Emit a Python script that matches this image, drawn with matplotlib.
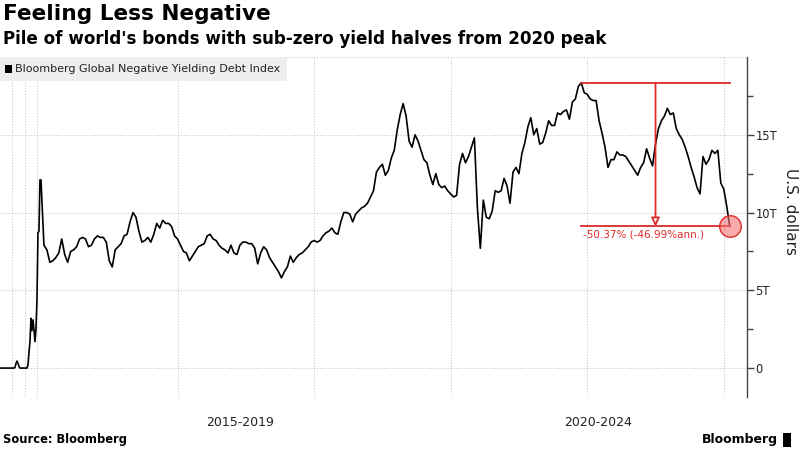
import matplotlib
matplotlib.use("Agg")
import matplotlib.pyplot as plt
import numpy as np
from matplotlib.patches import Rectangle
from matplotlib.ticker import FixedLocator, FuncFormatter

# --- DATA (trillions of USD) ---
# early history is squeezed into the left edge of the chart
pre_2017 = [0, 0, 0, 0, 0, 0, 0, 0, 0, 0, 0, 0, 0, 0, 0,
            0.05, 0.3, 0.45, 0.3, 0.1,
            0, 0, 0, 0, 0, 0, 0, 0,
            0.2, 1.0, 1.7, 3.2, 2.4, 3.1, 2.5, 1.7, 2.5, 4.4, 8.7, 8.8, 12.1]

v_2017 = [12.1, 7.9, 7.6, 6.8, 6.9, 7.1, 7.4, 8.3, 7.3, 6.8, 7.5, 7.6, 7.8, 8.3, 8.4, 8.3,
          7.8, 7.9, 8.3, 8.5, 8.4, 8.4, 8.1, 6.9, 6.5, 7.6, 7.8, 8.0, 8.5, 8.6, 9.4, 10.0,
          9.7, 8.8, 8.1, 8.2, 8.4, 8.1, 8.6, 9.3, 9.0, 9.5, 9.3, 9.3, 9.1, 8.5]

v_2018 = [8.3, 7.9, 7.5, 7.4, 6.9, 7.2, 7.5, 7.8, 7.9, 8.0, 8.5, 8.6, 8.3, 8.2, 7.9, 7.7,
          7.6, 7.4, 7.9, 7.4, 7.3, 7.9, 8.1, 8.1, 8.0, 8.0, 7.7, 6.7, 7.4, 7.8, 7.6, 7.1,
          6.8, 6.5, 6.2, 5.8, 6.2, 6.5, 7.2, 6.8, 7.1, 7.3, 7.4, 7.6, 7.8, 8.1]

v_2019 = [8.2, 8.1, 8.2, 8.5, 8.7, 8.8, 9.0, 8.7, 8.6, 9.4, 10.0, 10.0, 9.9, 9.4, 9.9, 10.1,
          10.3, 10.4, 10.6, 11.0, 11.4, 12.6, 12.9, 13.1, 12.4, 12.7, 13.5, 14.0, 15.3, 16.3,
          17.0, 16.2, 14.6, 14.2, 15.0, 14.6, 14.0, 13.4, 13.2, 12.4, 11.8, 12.5, 11.8, 11.6,
          11.7, 11.4]

v_2020 = [11.2, 11.0, 11.1, 13.1, 13.8, 13.2, 13.6, 14.2, 14.8, 10.3, 7.7, 10.8, 9.7, 9.6,
          10.1, 11.4, 11.3, 11.4, 12.2, 11.7, 10.6, 12.6, 12.9, 12.5, 13.8, 14.5, 15.5, 16.1,
          15.0, 15.4, 14.4, 14.5, 15.1, 15.9, 15.6, 15.6, 16.4, 16.3, 16.5, 16.6, 16.0, 17.1,
          17.3, 18.1, 18.35, 17.7]

v_2021 = [17.6, 17.3, 17.2, 17.2, 15.9, 15.1, 14.2, 12.9, 13.4, 13.4, 13.9, 13.7, 13.7, 13.6,
          13.3, 13.0, 12.7, 12.4, 12.9, 13.2, 14.1, 13.5, 13.0, 14.4, 15.4, 15.9, 16.2, 16.7,
          16.3, 16.4, 15.4, 15.0, 14.7, 14.2, 13.6, 12.9, 12.3, 11.6, 11.2, 13.6, 13.1, 13.4,
          14.0, 13.8, 14.0, 11.9]

v_2022 = [11.5, 10.4, 9.11]

yearly = {2017: v_2017, 2018: v_2018, 2019: v_2019, 2020: v_2020, 2021: v_2021, 2022: v_2022}

period_labels = ['2015-2019', '2020-2024']
period_centers = [2018.46, 2021.08]
grid_x = [2016.79, 2016.88, 2016.97, 2018, 2019, 2020, 2021, 2022]
change_label = '-50.37% (-46.99%ann.)'

RED = '#dd2a2a'
GRID = '#c9c9c9'
SAMPLES_PER_YEAR = 46
X_LEFT, X_RIGHT = 2016.70, 2022.17

# -- build the x positions --
xs = [X_LEFT + np.arange(len(pre_2017)) * (2017 - X_LEFT) / len(pre_2017)]
ys = [np.array(pre_2017, dtype=float)]
for yr, vals in yearly.items():
    xs.append(yr + np.arange(len(vals)) / SAMPLES_PER_YEAR)
    ys.append(np.array(vals, dtype=float))
x = np.concatenate(xs)
y = np.concatenate(ys)

fig = plt.figure(figsize=(8, 4.5), dpi=100)
ax = fig.add_axes([0.0, 1 - 397 / 450, 747 / 800, 340 / 450])

ax.plot(x, y, color='black', lw=1.2, zorder=3)

ax.set_xlim(X_LEFT, X_RIGHT)
ax.set_ylim(-1.86, 20)

# grid
for gx in grid_x:
    ax.axvline(gx, color=GRID, lw=0.8, ls=(0, (1, 1.5)), zorder=1)
for gy in [0, 5, 10, 15, 20]:
    ax.axhline(gy, color=GRID, lw=0.8, ls=(0, (1, 1.5)), zorder=1)

# axes styling
for side in ['top', 'left', 'bottom']:
    ax.spines[side].set_visible(False)
ax.spines['right'].set_color('#444444')
ax.spines['right'].set_linewidth(1.0)
ax.yaxis.tick_right()
ax.yaxis.set_major_locator(FixedLocator([0, 5, 10, 15]))
ax.yaxis.set_minor_locator(FixedLocator([2.5, 7.5, 12.5, 17.5]))
ax.yaxis.set_major_formatter(FuncFormatter(lambda v, p: '0' if v == 0 else f'{int(v)}T'))
ax.tick_params(axis='y', which='major', length=5, width=1, color='#444444',
               labelsize=8.3, pad=1, labelcolor='#222222')
ax.tick_params(axis='y', which='minor', length=4, width=1, color='#444444')
ax.set_xticks(period_centers)
ax.set_xticklabels(period_labels)
ax.tick_params(axis='x', length=0, labelsize=9, pad=14, labelcolor='#222222')

# peak-to-now annotation
i_peak = int(np.argmax(y[x > 2019.5])) + int(np.sum(x <= 2019.5))
px, pv = x[i_peak], y[i_peak]
ex, ev = x[-1], y[-1]
ax.plot([px, ex], [pv, pv], color=RED, lw=1.3, zorder=4)
ax.plot([px, ex], [ev, ev], color=RED, lw=1.3, zorder=4)
mid = (px + ex) / 2
ax.annotate('', xy=(mid, ev), xytext=(mid, pv),
            arrowprops=dict(arrowstyle='-|>,head_length=0.5,head_width=0.25',
                            facecolor='white', edgecolor=RED, lw=1.3,
                            shrinkA=0, shrinkB=0), zorder=4)
ax.scatter([ex], [ev], s=240, facecolor=(0.96, 0.45, 0.45, 0.6),
           edgecolor=RED, lw=1, zorder=5)
ax.text(px + 0.01, ev - 0.2, change_label, color=RED, fontsize=7.5,
        va='top', ha='left', zorder=5)

# legend box
ax.add_patch(Rectangle((0, 1 - 24 / 340), 287 / 747, 24 / 340, transform=ax.transAxes,
                       facecolor='#eeeeee', edgecolor='none', zorder=2, clip_on=False))
ax.add_patch(Rectangle((5 / 747, 1 - 15.5 / 340), 7 / 747, 7 / 340, transform=ax.transAxes,
                       facecolor='black', edgecolor='none', zorder=3, clip_on=False))
ax.text(15 / 747, 1 - 12 / 340, 'Bloomberg Global Negative Yielding Debt Index',
        transform=ax.transAxes, fontsize=8, va='center', ha='left', color='#222222', zorder=3)

# titles and footer
fig.text(3 / 800, 1 - 4 / 450, 'Feeling Less Negative', fontsize=15.6, fontweight='bold',
         va='top', ha='left')
fig.text(3 / 800, 1 - 30 / 450, "Pile of world's bonds with sub-zero yield halves from 2020 peak",
         fontsize=12.1, fontweight='bold', va='top', ha='left')
fig.text(791 / 800, 1 - 212 / 450, 'U.S. dollars', rotation=-90, fontsize=11,
         va='center', ha='center', color='#222222')
fig.text(3 / 800, 1 - 440 / 450, 'Source: Bloomberg', fontsize=8.3, fontweight='bold',
         va='center', ha='left')
fig.text(778 / 800, 1 - 440 / 450, 'Bloomberg', fontsize=9, fontweight='bold',
         va='center', ha='right')
fig.add_artist(Rectangle((783 / 800, 1 - 447 / 450), 8 / 800, 14 / 450,
                         transform=fig.transFigure, facecolor='black', edgecolor='none'))

fig.savefig('out.png', dpi=100)
